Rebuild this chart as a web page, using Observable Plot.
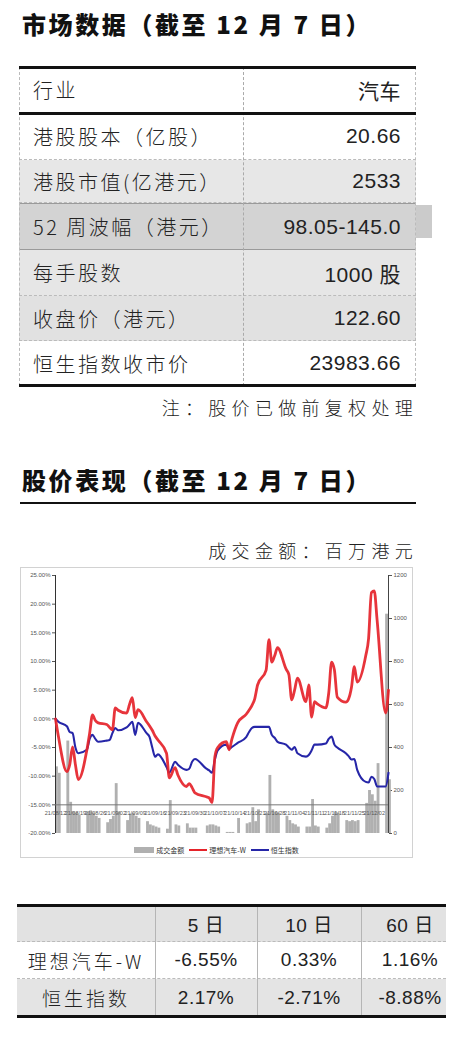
<!DOCTYPE html>
<html>
<head>
<meta charset="utf-8">
<script src="https://cdn.jsdelivr.net/npm/d3@7"></script>
<script src="https://cdn.jsdelivr.net/npm/@observablehq/plot@0.6"></script>
<style>
  html, body { margin: 0; padding: 0; background: #fff; }
  body { width: 462px; height: 1040px; position: relative; overflow: hidden;
         font-family: "Noto Sans CJK SC", "Noto Sans", sans-serif; color: #222; }
  .abs { position: absolute; }
  .h1 { left: 22px; font-size: 24px; line-height: 24px; font-weight: 900; color: #111; letter-spacing: 2.6px; white-space: nowrap; }
  .note { right: 44px; font-size: 18px; line-height: 20px; font-weight: 300; letter-spacing: 5.3px; color: #222; white-space: nowrap; }
  .row { position: absolute; left: 19px; width: 397px; box-sizing: border-box; border-bottom: 1px dashed #bbb; }
  .cellL { position: absolute; left: 14px; top: 0; bottom: 0; display: flex; align-items: center;
           font-size: 20px; font-weight: 300; letter-spacing: 2.5px; color: #222; white-space: nowrap; }
  .cellR { position: absolute; right: 15px; top: 0; bottom: 0; display: flex; align-items: center;
           font-family: "Liberation Sans", "Noto Sans CJK SC", sans-serif; font-size: 21px; letter-spacing: 0.5px; color: #222; white-space: nowrap; }
  .ptab { position: absolute; left: 17px; width: 429px; }
  .pc { position: absolute; top: 0; bottom: 0; display: flex; align-items: center; justify-content: center;
        font-size: 19px; white-space: nowrap; color: #222; }
  .pc.num { font-family: "Liberation Sans", "Noto Sans CJK SC", sans-serif; letter-spacing: 0.5px; }
  .pc.name { font-weight: 300; letter-spacing: 3px; }
  #legend { left: 20px; width: 393px; top: 843px; height: 14px; display: flex; justify-content: center; align-items: center;
            font-size: 7px; color: #333; gap: 2px; white-space: nowrap; }
  #legend .sw { display: inline-block; vertical-align: middle; }
</style>
</head>
<body>
<script>
// ---------------- data ----------------
const tradeDays = [
  "08-12","08-13",
  "08-16","08-17","08-18","08-19","08-20",
  "08-23","08-24","08-25","08-26","08-27",
  "08-30","08-31","09-01","09-02","09-03",
  "09-06","09-07","09-08","09-09","09-10",
  "09-13","09-14","09-15","09-16","09-17",
  "09-20","09-21","09-23","09-24",
  "09-27","09-28","09-29","09-30",
  "10-04","10-05","10-06","10-07","10-08",
  "10-11","10-12","10-13","10-15",
  "10-18","10-19","10-20","10-21","10-22",
  "10-25","10-26","10-27","10-28","10-29",
  "11-01","11-02","11-03","11-04","11-05",
  "11-08","11-09","11-10","11-11","11-12",
  "11-15","11-16","11-17","11-18","11-19",
  "11-22","11-23","11-24","11-25","11-26",
  "11-29","11-30","12-01","12-02","12-03",
  "12-06","12-07"
];
// 理想汽车-W, cumulative change (%)
const liAuto = [
  0, -3,
  -9.2, -8, -4.9, -8, -10.6,
  -5.5, -2.5, 0.7, -0.3, -0.7,
  -1, -1.5, -1.9, 1.9, 1.5,
  1, 2.5, 3.7, 0.2, 1.6,
  -0.5, -1.2, -2, -3, -3.7,
  -6, -10.3, -8.5, -9.8,
  -11.8, -11.3, -12, -12.9,
  -13.6, -13.8, -14.6, -6.6, -5,
  -4, -5.4, -3.5, -0.7,
  0.8, 1.5, 2.3, 3.5, 5.9,
  8.5, 13.8, 9.9, 11, 12.4,
  8.7, 7.7, 3.3, 5, 7.1,
  3, 5.9, 0.3, 3, 2.6,
  1.9, 4.5, 9.9, 8.5, 3.8,
  2.9, 3.5, 5.5, 9.1, 6.4,
  11, 14, 22, 22.3, 17.2,
  1, 5
];
// 恒生指数, cumulative change (%)
const hsi = [
  0, -0.5,
  -1.3, -2.3, -2.5, -5, -6,
  -5.4, -3.5, -2.8, -3.5, -4,
  -3.8, -3.7, -2.5, -1.6, -2,
  -1.5, -1, -0.5, -2.8, -0.7,
  -2.5, -3.1, -5, -6.6, -6.2,
  -8.4, -9.4, -7.5, -8,
  -8.9, -8.7, -7.5, -7,
  -8.7, -9, -9.4, -7.1, -5.5,
  -4.5, -5.2, -4.9, -4.2,
  -3.2, -2.3, -1.6, -1.4, -1.4,
  -1.4, -1.4, -2.8, -3.3, -4,
  -4.5, -5, -5.4, -4.9, -6,
  -6.6, -6.3, -5.5, -4.5, -4.5,
  -4.3, -3.5, -3.1, -4.5, -5,
  -6, -6.5, -7.1, -7, -8.9,
  -11, -11.1, -10.1, -10.5, -11.8,
  -11.8, -9.4
];
// 成交金额 (百万港元)
const turnover = [
  310, 280,
  430, 145, 100, 95, 85,
  100, 105, 95, 80, 70,
  50, 65, 80, 232, 100,
  60, 90, 95, 80, 70,
  55, 40, 35, 30, 25,
  20, 153, 40, 35,
  45, 25, 25, 25,
  35, 40, 40, 35, 30,
  5, 5, 5, 70,
  45, 50, 120, 55, 110,
  95, 270, 110, 100, 95,
  80, 60, 45, 40, 30,
  30, 30, 158, 35, 30,
  25, 45, 80, 100, 95,
  60, 55, 60, 55, 60,
  140, 200, 180, 150, 325,
  1020, 250
];
const dataYear = "2021-";
const pctTicks = [-20, -15, -10, -5, 0, 5, 10, 15, 20, 25];
const volTicks = [0, 200, 400, 600, 800, 1000, 1200];
const xAxisLevel = -15;
const seriesNames = ["成交金额", "理想汽车-W", "恒生指数"];
const seriesColors = ["#b0b0b0", "#e5232a", "#2626a8"];

const pageTitle = "市场数据（截至 12 月 7 日）";
const chartTitle = "股价表现（截至 12 月 7 日）";
const noteText = "注：股价已做前复权处理";
const unitText = "成交金额：百万港元";
const marketLabels = ["行业", "港股股本（亿股）", "港股市值(亿港元）", "52 周波幅（港元）", "每手股数", "收盘价（港元）", "恒生指数收市价"];
const marketValues = ["汽车", "20.66", "2533", "98.05-145.0", "1000 股", "122.60", "23983.66"];
const perfHeaders = ["", "5 日", "10 日", "60 日"];
const perfNames = ["理想汽车-W", "恒生指数"];
const perfLi = ["-6.55%", "0.33%", "1.16%"];
const perfHsi = ["2.17%", "-2.71%", "-8.88%"];

// ---------------- layout (not data) ----------------
const rowTops = [67, 113, 160, 203, 250, 296, 341, 386];
const rowBg = ["#fff", "#fff", "#e7e7e7", "#d3d3d3", "#e6e6e6", "#e1e1e1", "#fff"];
const perfColEdges = [0, 138, 240, 344, 429];
const perfRowTops = [905, 942, 979, 1016];
const perfRowBg = ["#e2e2e2", "#fff", "#e4e4e4"];

function el(tag, cls, style, text) {
  const e = document.createElement(tag);
  if (cls) e.className = cls;
  if (style) e.setAttribute("style", style);
  if (text != null) e.textContent = text;
  document.body.appendChild(e);
  return e;
}

// titles
el("div", "abs h1", "top:12px;", pageTitle);
el("div", "abs h1", "top:468px;", chartTitle);
el("div", "abs", "left:20px;top:502px;width:396px;height:2px;background:#111;");
el("div", "abs note", "top:397px;", noteText);
el("div", "abs note", "top:540px;", unitText);

// market table
el("div", "abs", "left:416px;top:205px;width:16px;height:33px;background:#cbcbcb;");
marketLabels.forEach((lab, i) => {
  const top = rowTops[i], h = rowTops[i + 1] - rowTops[i];
  const r = el("div", "row", `top:${top}px;height:${h}px;background:${rowBg[i]};` +
    (i === 3 ? "border-top:1px solid #9a9a9a;border-bottom:1px solid #9a9a9a;" : ""));
  const l = document.createElement("div"); l.className = "cellL"; l.textContent = lab; r.appendChild(l);
  const v = document.createElement("div"); v.className = "cellR"; v.textContent = marketValues[i]; r.appendChild(v);
});
el("div", "abs", "left:243px;top:67px;width:0;height:319px;border-left:1px dashed #aaa;");
el("div", "abs", "left:19px;top:67px;width:0;height:319px;border-left:1px dashed #bbb;");
el("div", "abs", "left:415px;top:67px;width:0;height:319px;border-left:1px dashed #bbb;");
el("div", "abs", "left:19px;top:66px;width:397px;height:3px;background:#111;");
el("div", "abs", "left:19px;top:112px;width:397px;height:3px;background:#111;");
el("div", "abs", "left:19px;top:384px;width:397px;height:3px;background:#111;");

// performance table
const perfRows = [perfHeaders, [perfNames[0], ...perfLi], [perfNames[1], ...perfHsi]];
perfRows.forEach((row, ri) => {
  const top = perfRowTops[ri], h = perfRowTops[ri + 1] - top;
  const r = el("div", "ptab", `top:${top}px;height:${h}px;background:${perfRowBg[ri]};` +
    (ri < 2 ? "border-bottom:1px dashed #bbb;box-sizing:border-box;" : ""));
  row.forEach((txt, ci) => {
    const c = document.createElement("div");
    c.className = "pc " + (ci === 0 ? "name" : "num");
    const x0 = perfColEdges[ci] + (ci === 3 ? 13 : 0), x1 = perfColEdges[ci + 1];
    c.style.left = x0 + "px"; c.style.width = (x1 - x0) + "px";
    c.textContent = txt;
    r.appendChild(c);
  });
});
perfColEdges.slice(1, 4).forEach(x => {
  el("div", "abs", `left:${17 + x}px;top:905px;width:1px;height:111px;background:#b5b5b5;`);
});
el("div", "abs", "left:17px;top:904px;width:429px;height:3px;background:#111;");
el("div", "abs", "left:17px;top:1015px;width:429px;height:3px;background:#111;");

// chart frame
el("div", "abs", "left:20px;top:567px;width:393px;height:291px;box-sizing:border-box;border:1px solid #d2d2d2;");

// ---------------- chart ----------------
const parse = d3.utcParse("%Y-%m-%d");
const dates = tradeDays.map(d => parse(dataYear + d));
const xDomain = [dates[0], dates[dates.length - 1]];
const labelDates = d3.utcThursday.range(xDomain[0], d3.utcDay.offset(xDomain[1], 1));
const fmtDate = d3.utcFormat("%y/%m/%d");

const volData = dates.map((d, i) => ({ x1: d, x2: d3.utcDay.offset(d, 1), v: turnover[i] }));
const liData = dates.map((d, i) => ({ date: d, v: liAuto[i] }));
const hsiData = dates.map((d, i) => ({ date: d, v: hsi[i] }));

const W = 393, H = 272;
const common = {
  width: W, height: H,
  marginLeft: 35, marginRight: 25, marginTop: 8, marginBottom: 6,
  style: { background: "transparent", fontSize: "6px", color: "#555", fontFamily: "'Liberation Sans', sans-serif", overflow: "visible" }
};

const barsPlot = Plot.plot({
  ...common,
  x: { type: "utc", domain: xDomain, axis: null },
  y: { domain: [0, 1200], axis: "right", ticks: volTicks, tickSize: 3, tickPadding: 2, label: null, tickFormat: d => String(d) },
  marks: [
    Plot.rectY(volData, { x1: "x1", x2: "x2", y: "v", fill: seriesColors[0] }),
    Plot.ruleX([xDomain[1]], { stroke: "#444", strokeWidth: 1 })
  ]
});

const linesPlot = Plot.plot({
  ...common,
  x: { type: "utc", domain: xDomain, axis: null },
  y: { domain: [-20, 25], axis: "left", ticks: pctTicks, tickSize: 3, tickPadding: 2, label: null, tickFormat: d => d.toFixed(2) + "%" },
  marks: [
    Plot.ruleX([xDomain[0]], { stroke: "#333", strokeWidth: 1 }),
    Plot.ruleY([xAxisLevel], { stroke: "#777", strokeWidth: 1 }),
    Plot.text(labelDates, { x: d => d, y: xAxisLevel, dy: 8, text: d => fmtDate(d), fontSize: 5.5, fill: "#555" }),
    Plot.line(hsiData, { x: "date", y: "v", stroke: seriesColors[2], strokeWidth: 2.1, curve: "monotone-x" }),
    Plot.line(liData, { x: "date", y: "v", stroke: seriesColors[1], strokeWidth: 2.8, curve: "monotone-x", strokeOpacity: 0.92 })
  ]
});

[barsPlot, linesPlot].forEach(p => {
  p.style.position = "absolute";
  p.style.left = "20px";
  p.style.top = "567px";
  document.body.appendChild(p);
});

// legend
const lg = el("div", "abs", null);
lg.id = "legend";
seriesNames.forEach((name, i) => {
  const sw = document.createElement("span");
  sw.className = "sw";
  if (i === 0) sw.setAttribute("style", `width:20px;height:6px;background:${seriesColors[0]};`);
  else sw.setAttribute("style", `width:18px;height:2px;background:${seriesColors[i]};margin-left:3px;`);
  lg.appendChild(sw);
  const t = document.createElement("span");
  t.textContent = name;
  lg.appendChild(t);
});
</script>
</body>
</html>
